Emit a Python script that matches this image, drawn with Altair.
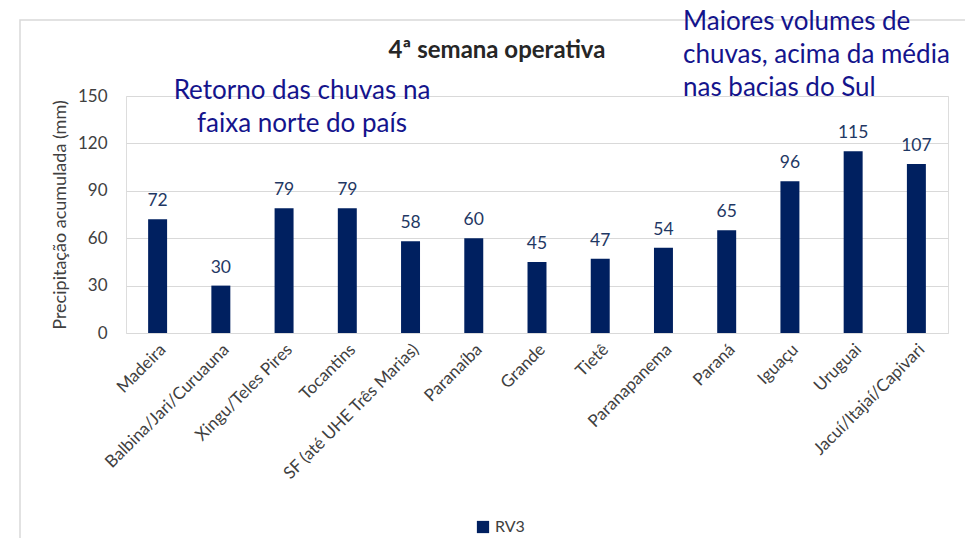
import altair as alt
import pandas as pd

categorias = ["Madeira", "Balbina/Jari/Curuauna", "Xingu/Teles Pires", "Tocantins",
              "SF (até UHE Três Marias)", "Paranaíba", "Grande", "Tietê",
              "Paranapanema", "Paraná", "Iguaçu", "Uruguai", "Jacuí/Itajaí/Capivari"]
valores = [72, 30, 79, 79, 58, 60, 45, 47, 54, 65, 96, 115, 107]
serie = "RV3"
titulo = "4ª semana operativa"
nota_norte = ["Retorno das chuvas na", "faixa norte do país"]
nota_sul = ["Maiores volumes de", "chuvas, acima da média", "nas bacias do Sul"]
y_ticks = [0, 30, 60, 90, 120, 150]

df = pd.DataFrame({"bacia": categorias, "valor": valores, "serie": [serie] * len(categorias)})
one = pd.DataFrame({"k": [0]})

FONT = "Lato"
BAR = "#002060"
NOTE = "#14148c"
GRAY = "#404040"

x = alt.X("bacia:N", sort=categorias, title=None,
          scale=alt.Scale(paddingInner=0.7, paddingOuter=0.35),
          axis=alt.Axis(labelAngle=-45, labelFontSize=17, labelColor=GRAY, labelFont=FONT,
                        ticks=False, domain=False, labelPadding=8, labelLimit=300))
y = alt.Y("valor:Q", title="Precipitação acumulada (mm)",
          scale=alt.Scale(domain=[0, 150], nice=False),
          axis=alt.Axis(values=y_ticks, labelFontSize=17, labelColor=GRAY, labelFont=FONT,
                        ticks=False, domain=False, gridColor="#d9d9d9", labelPadding=19,
                        titleFontSize=18, titleFontWeight="normal", titleColor=GRAY,
                        titleFont=FONT, titlePadding=8))

bars = alt.Chart(df).mark_bar().encode(
    x=x, y=y,
    color=alt.Color("serie:N", scale=alt.Scale(range=[BAR]),
                    legend=alt.Legend(title=None, orient="none", legendX=349, legendY=423,
                                      symbolType="square", symbolSize=150,
                                      symbolStrokeWidth=0,
                                      labelFontSize=16, labelColor=GRAY, labelFont=FONT)))

labels = alt.Chart(df).mark_text(baseline="bottom", dy=-9, fontSize=17.5, color="#1f3864",
                                 font=FONT).encode(
    x=alt.X("bacia:N", sort=categorias), y="valor:Q", text="valor:Q")

frame = alt.Chart(one).mark_rect(fill=None, stroke="#d9d9d9", strokeWidth=1.5).encode(
    x=alt.value(-106), x2=alt.value(842), y=alt.value(-76), y2=alt.value(470))

title = alt.Chart(one).mark_text(fontSize=24, fontWeight="bold", font=FONT, color="#262626",
                                 align="center", baseline="alphabetic").encode(
    x=alt.value(371), y=alt.value(-38), text=alt.value(titulo))

n1 = alt.Chart(one).mark_text(fontSize=26, font=FONT, color=NOTE, align="center",
                              baseline="alphabetic", lineHeight=33).encode(
    x=alt.value(176), y=alt.value(3), text=alt.value(nota_norte))

n2 = alt.Chart(one).mark_text(fontSize=26, font=FONT, color=NOTE, align="left",
                              baseline="alphabetic", lineHeight=33).encode(
    x=alt.value(557), y=alt.value(-66), text=alt.value(nota_sul))

chart = alt.layer(frame, bars, labels, title, n1, n2).properties(
    width=822, height=237,
    autosize=alt.AutoSizeParams(type="none"),
    padding={"left": 118, "top": 88, "right": 17, "bottom": 205},
).configure_view(stroke=None).configure(font=FONT)

chart.save("out.html", embed_options={"renderer": "svg", "actions": False})
